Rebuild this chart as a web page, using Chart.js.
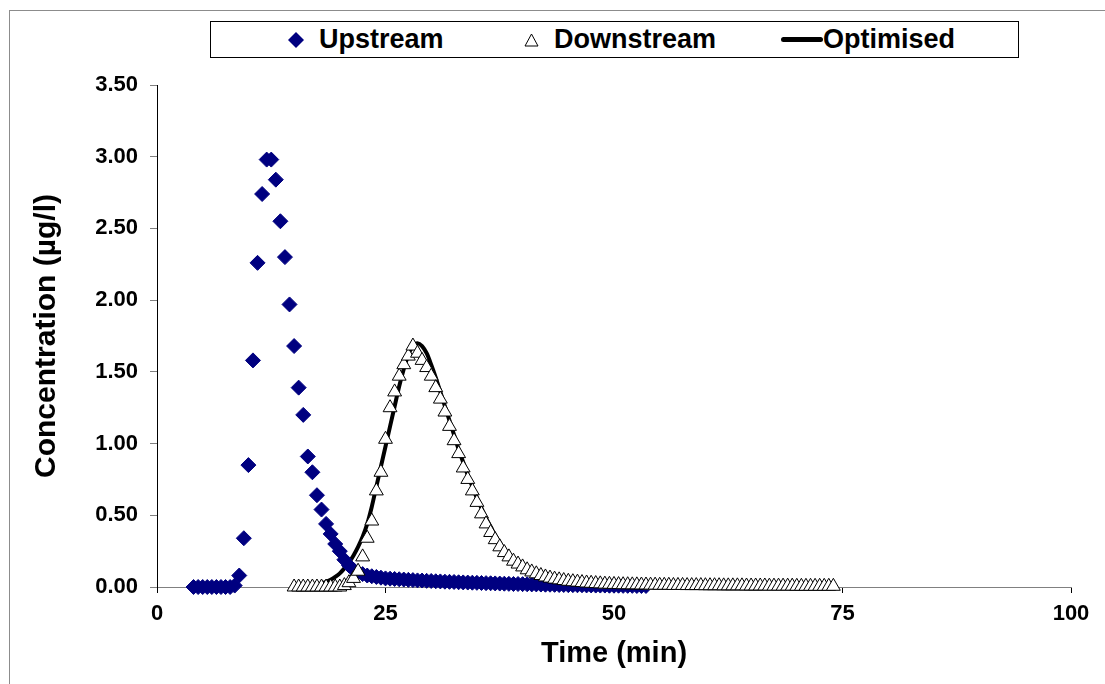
<!DOCTYPE html>
<html>
<head>
<meta charset="utf-8">
<script src="https://cdn.jsdelivr.net/npm/chart.js@4.4.1/dist/chart.umd.min.js"></script>
<style>
  html, body { margin: 0; padding: 0; background: #fff; overflow: hidden; }
  #wrap { position: relative; width: 1105px; height: 684px; overflow: hidden; }
  #frame { position: absolute; left: 9px; top: 10px; width: 1200px; height: 800px; border: 1px solid #8c8c8c; }
  #chart { position: absolute; left: 0; top: 0; }
  #legend { position: absolute; left: 210px; top: 21px; width: 807px; height: 35px; border: 1px solid #000; background: #fff;
            font: bold 27px "Liberation Sans", Arial, sans-serif; color: #000; }
  #legend .item { position: absolute; top: 0; line-height: 35px; white-space: nowrap; }
  #legend svg { position: absolute; }
</style>
</head>
<body>
<div id="wrap">
  <div id="frame"></div>
  <canvas id="chart" width="1105" height="684"></canvas>
  <div id="legend">
    <svg style="left:77px;top:10px" width="16" height="16"><polygon points="8,0 16,8 8,16 0,8" fill="#000080"/></svg>
    <span class="item" style="left:108px">Upstream</span>
    <svg style="left:313px;top:11px" width="15" height="14"><polygon points="7.5,1 14,13 1,13" fill="#fff" stroke="#000" stroke-width="1"/></svg>
    <span class="item" style="left:343px">Downstream</span>
    <svg style="left:570px;top:15px" width="42" height="5"><rect x="0" y="0" width="42" height="5" rx="2.5" fill="#000"/></svg>
    <span class="item" style="left:612px">Optimised</span>
  </div>
</div>
<script>
// measured upstream concentrations (ug/l), every half minute
var upstreamTime = [
  4, 4.5, 5, 5.5, 6, 6.5, 7, 7.5, 8, 8.5,
  9, 9.5, 10, 10.5, 11, 11.5, 12, 12.5, 13, 13.5,
  14, 14.5, 15, 15.5, 16, 16.5, 17, 17.5, 18, 18.5,
  19, 19.5, 20, 20.5, 21, 21.5, 22, 22.5, 23, 23.5,
  24, 24.5, 25, 25.5, 26, 26.5, 27, 27.5, 28, 28.5,
  29, 29.5, 30, 30.5, 31, 31.5, 32, 32.5, 33, 33.5,
  34, 34.5, 35, 35.5, 36, 36.5, 37, 37.5, 38, 38.5,
  39, 39.5, 40, 40.5, 41, 41.5, 42, 42.5, 43, 43.5,
  44, 44.5, 45, 45.5, 46, 46.5, 47, 47.5, 48, 48.5,
  49, 49.5, 50, 50.5, 51, 51.5, 52, 52.5, 53, 53.5
];
var upstream = [
  0, 0, 0, 0, 0, 0, 0, 0, 0, 0.01,
  0.08, 0.34, 0.85, 1.58, 2.26, 2.74, 2.98, 2.98, 2.84, 2.55,
  2.30, 1.97, 1.68, 1.39, 1.20, 0.91, 0.80, 0.64, 0.54, 0.44,
  0.37, 0.30, 0.25, 0.19, 0.15, 0.12, 0.10, 0.09, 0.08, 0.075,
  0.07, 0.065, 0.06, 0.058, 0.056, 0.054, 0.052, 0.05, 0.048, 0.046,
  0.045, 0.043, 0.042, 0.04, 0.039, 0.037, 0.036, 0.035, 0.033, 0.032,
  0.031, 0.03, 0.029, 0.028, 0.027, 0.026, 0.025, 0.024, 0.023, 0.022,
  0.021, 0.021, 0.02, 0.019, 0.018, 0.018, 0.017, 0.016, 0.016, 0.015,
  0.014, 0.014, 0.013, 0.013, 0.012, 0.012, 0.011, 0.011, 0.01, 0.01,
  0.01, 0.009, 0.009, 0.009, 0.008, 0.008, 0.008, 0.007, 0.007, 0.007
];

// measured downstream concentrations
var downstreamTime = [
  15, 15.5, 16, 16.5, 17, 17.5, 18, 18.5, 19, 19.5,
  20, 20.5, 21, 21.5, 22, 22.5, 23, 23.5, 24, 24.5,
  25, 25.5, 26, 26.5, 27, 27.5, 28, 28.5, 29, 29.5,
  30, 30.5, 31, 31.5, 32, 32.5, 33, 33.5, 34, 34.5,
  35, 35.5, 36, 36.5, 37, 37.5, 38, 38.5, 39, 39.5,
  40, 40.5, 41, 41.5, 42, 42.5, 43, 43.5, 44, 44.5,
  45, 45.5, 46, 46.5, 47, 47.5, 48, 48.5, 49, 49.5,
  50, 50.5, 51, 51.5, 52, 52.5, 53, 53.5, 54, 54.5,
  55, 55.5, 56, 56.5, 57, 57.5, 58, 58.5, 59, 59.5,
  60, 60.5, 61, 61.5, 62, 62.5, 63, 63.5, 64, 64.5,
  65, 65.5, 66, 66.5, 67, 67.5, 68, 68.5, 69, 69.5,
  70, 70.5, 71, 71.5, 72, 72.5, 73, 73.5, 74
];
var downstream = [
  0, 0, 0, 0, 0, 0, 0, 0, 0, 0,
  0, 0.01, 0.03, 0.06, 0.11, 0.21, 0.34, 0.46, 0.67, 0.80,
  1.03, 1.25, 1.36, 1.47, 1.55, 1.61, 1.68, 1.63, 1.58, 1.53,
  1.47, 1.39, 1.31, 1.22, 1.12, 1.02, 0.93, 0.83, 0.75, 0.67,
  0.59, 0.51, 0.44, 0.38, 0.33, 0.28, 0.24, 0.21, 0.18, 0.16,
  0.14, 0.12, 0.105, 0.092, 0.08, 0.07, 0.062, 0.055, 0.05, 0.045,
  0.04, 0.037, 0.034, 0.031, 0.028, 0.026, 0.024, 0.022, 0.02, 0.019,
  0.018, 0.017, 0.016, 0.016, 0.015, 0.015, 0.014, 0.014, 0.013, 0.013,
  0.012, 0.012, 0.012, 0.011, 0.011, 0.011, 0.01, 0.01, 0.01, 0.01,
  0.009, 0.009, 0.009, 0.009, 0.008, 0.008, 0.008, 0.008, 0.008, 0.007,
  0.007, 0.007, 0.007, 0.007, 0.006, 0.006, 0.006, 0.006, 0.006, 0.006,
  0.005, 0.005, 0.005, 0.005, 0.005, 0.005, 0.005, 0.005, 0.005
];

// fitted model curve
var optimisedTime = [
  15, 16, 17, 17.5, 18, 18.5, 19, 19.5, 20, 20.5, 21, 21.5, 22,
  22.5, 23, 23.5, 24, 24.5, 25, 25.5, 26, 26.5, 27,
  27.5, 28, 28.5, 29, 29.5, 30, 30.5, 31, 31.5, 32,
  32.5, 33, 33.5, 34, 34.5, 35, 35.5, 36, 36.5, 37,
  37.5, 38, 38.5, 39, 39.5, 40,
  41, 42, 43, 44, 45, 46, 47, 48,
  50, 52, 55, 60, 65, 74
];
var optimised = [
  0, 0.002, 0.01, 0.015, 0.025, 0.035, 0.05, 0.07, 0.095, 0.13, 0.17, 0.22, 0.28,
  0.35, 0.44, 0.56, 0.70, 0.84, 0.98, 1.12, 1.26, 1.40, 1.52,
  1.62, 1.68, 1.70, 1.68, 1.63, 1.55, 1.46, 1.36, 1.26, 1.16,
  1.06, 0.96, 0.87, 0.78, 0.70, 0.62, 0.55, 0.48, 0.42, 0.36,
  0.31, 0.26, 0.22, 0.18, 0.155, 0.13,
  0.095, 0.07, 0.05, 0.036, 0.026, 0.019, 0.014, 0.01,
  0.005, 0.003, 0.001, 0, 0, 0
];

var xTicks = [0, 25, 50, 75, 100];
var yTicks = [0, 0.5, 1, 1.5, 2, 2.5, 3, 3.5];

function toPoints(xs, ys) {
  return xs.map(function(x, i) { return { x: x, y: ys[i] }; });
}

var fontFamily = '"Liberation Sans", Arial, sans-serif';

new Chart(document.getElementById('chart'), {
  type: 'scatter',
  data: {
    datasets: [{
      label: 'Upstream',
      data: toPoints(upstreamTime, upstream),
      pointStyle: 'rectRot',
      pointRadius: 7.5,
      backgroundColor: '#000080',
      borderColor: '#000080',
      borderWidth: 1,
      showLine: false,
      clip: false,
      order: 2
    }, {
      label: 'Downstream',
      data: toPoints(downstreamTime, downstream),
      pointStyle: 'triangle',
      pointRadius: 8,
      backgroundColor: '#ffffff',
      borderColor: '#000000',
      borderWidth: 1,
      showLine: false,
      clip: false,
      order: 1
    }, {
      label: 'Optimised',
      data: toPoints(optimisedTime, optimised),
      showLine: true,
      pointRadius: 0,
      borderColor: '#000000',
      borderWidth: 4,
      cubicInterpolationMode: 'monotone',
      clip: false,
      order: 3
    }]
  },
  options: {
    responsive: false,
    animation: false,
    devicePixelRatio: 1,
    events: [],
    layout: { padding: { top: 85, right: 34, left: 0, bottom: 0 } },
    plugins: {
      legend: { display: false },
      tooltip: { enabled: false }
    },
    scales: {
      x: {
        type: 'linear',
        min: 0,
        max: 100,
        afterBuildTicks: function(s) { s.ticks = xTicks.map(function(v) { return { value: v }; }); },
        afterFit: function(s) { s.height = 97; },
        ticks: {
          color: '#000',
          padding: 8,
          maxRotation: 0,
          font: { family: fontFamily, size: 22, weight: 'bold' }
        },
        grid: { drawOnChartArea: false, tickLength: 6, color: '#000' },
        border: { color: '#808080', width: 1 },
        title: {
          display: true,
          text: 'Time (min)',
          color: '#000',
          font: { family: fontFamily, size: 29, weight: 'bold' },
          padding: { top: 0, bottom: 13 }
        }
      },
      y: {
        min: 0,
        max: 3.5,
        afterBuildTicks: function(s) { s.ticks = yTicks.map(function(v) { return { value: v }; }); },
        afterFit: function(s) { s.width = 157; },
        ticks: {
          color: '#000',
          padding: 12,
          callback: function(v) { return Number(v).toFixed(2); },
          font: { family: fontFamily, size: 22, weight: 'bold' }
        },
        grid: { drawOnChartArea: false, tickLength: 7, color: '#808080' },
        border: { color: '#000', width: 1 },
        title: {
          display: true,
          text: 'Concentration (µg/l)',
          color: '#000',
          font: { family: fontFamily, size: 30, weight: 'bold' },
          padding: { top: 29, bottom: 0 }
        }
      }
    }
  }
});
</script>
</body>
</html>
